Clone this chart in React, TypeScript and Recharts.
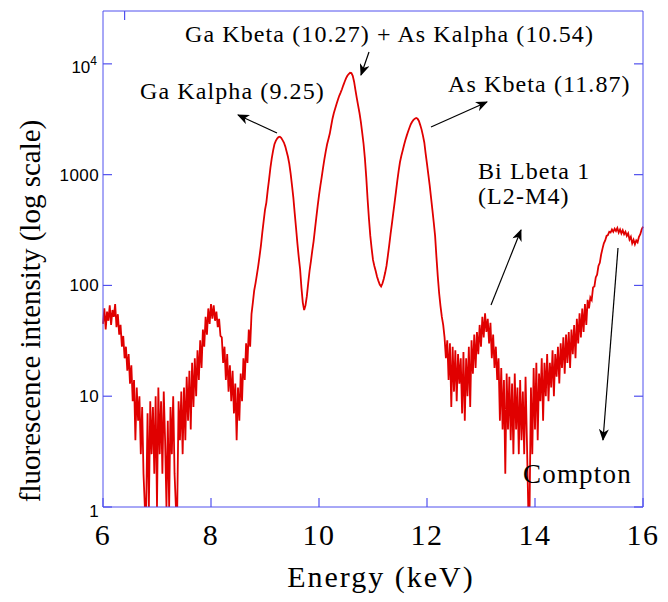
import { Line, LineChart, XAxis, YAxis } from "recharts"

const energyStart = 6
const energyStep = 0.025

const intensity = [
  45, 62, 40, 58, 48, 66, 44, 60, 52, 68, 42, 55, 36, 44, 28, 35, 22, 28, 17, 24,
  13, 19, 9, 14, 4, 12, 6, 10, 3, 8, 2, 1, 1, 7, 1, 9, 3, 8, 2, 10,
  1, 12, 3, 9, 2, 11, 4, 1, 6, 1, 8, 3, 10, 2, 1, 1, 9, 4, 11, 3,
  12, 4, 15, 6, 17, 5, 20, 8, 22, 10, 26, 14, 32, 18, 40, 28, 52, 36, 62, 45,
  68, 50, 66, 48, 58, 42, 50, 35, 34, 20, 28, 14, 24, 11, 19, 9, 17, 7, 13, 4,
  12, 6, 16, 9, 22, 14, 30, 20, 40, 28, 55, 70, 90, 105, 125, 150, 185, 230, 300, 380,
  480, 560, 720, 900, 1150, 1400, 1650, 1880, 2020, 2120, 2180, 2200, 2150, 2050, 1950, 1800, 1620, 1450, 1250, 1020,
  800, 620, 450, 330, 240, 180, 140, 95, 70, 60, 66, 80, 105, 135, 165, 205, 250, 320, 410, 520,
  650, 790, 950, 1150, 1380, 1620, 1880, 2100, 2350, 2750, 3200, 3600, 3950, 4350, 4750, 5150, 5500, 5900, 6400, 6900,
  7400, 7800, 8100, 8300, 8250, 7800, 6900, 5800, 4900, 4200, 3600, 3000, 2400, 1900, 1400, 950, 600, 400, 280, 215,
  170, 150, 135, 120, 110, 102, 98, 104, 115, 130, 150, 185, 230, 290, 360, 450, 560, 700, 880, 1080,
  1300, 1480, 1650, 1850, 2050, 2250, 2450, 2650, 2850, 3000, 3120, 3200, 3250, 3200, 3050, 2800, 2550, 2250, 1950, 1550,
  1250, 1000, 800, 620, 480, 370, 280, 180, 120, 85, 65, 52, 44, 34, 22, 32, 14, 30, 8, 28,
  11, 26, 9, 24, 13, 22, 7, 25, 6, 22, 10, 28, 8, 32, 16, 36, 18, 38, 24, 44,
  28, 52, 34, 56, 38, 50, 30, 46, 22, 36, 18, 28, 14, 22, 6, 18, 5, 14, 2, 16,
  5, 15, 4, 13, 3, 16, 5, 12, 3, 14, 4, 11, 3, 15, 4, 1, 1, 12, 3, 18,
  5, 20, 4, 16, 9, 22, 6, 20, 10, 24, 9, 20, 12, 26, 10, 24, 15, 28, 13, 30,
  18, 34, 16, 36, 20, 38, 18, 40, 24, 44, 22, 50, 30, 56, 34, 62, 38, 68, 44, 74,
  62, 78, 74, 96, 98, 118, 125, 150, 160, 190, 215, 240, 255, 280, 285, 305, 300, 320, 305, 325,
  310, 330, 300, 320, 295, 315, 290, 305, 280, 295, 260, 275, 240, 258, 235, 255, 245, 275, 290, 320,
  340,
]

const energyTicks = [6, 8, 10, 12, 14, 16]
const intensityTicks = [1, 10, 100, 1000, 10000]

const data = intensity.map((v, i) => ({
  energy: +(energyStart + i * energyStep).toFixed(3),
  intensity: v,
}))

const FRAME = "#5050ee"
const SERIF = "'Liberation Serif', 'Times New Roman', serif"
const SANS = "'Liberation Sans', Arial, sans-serif"
const TICK = 9

// all axes are mirrored (tickMargin 0), so x/y given to a tick sit at the inner end of the tick mark.
// the tick mark is drawn here, and the labels are pushed back outside the frame.
function BottomTick({ x, y, payload }: any) {
  return (
    <g>
      <line x1={x} x2={x} y1={y} y2={y + TICK} stroke={FRAME} strokeWidth={1.2} />
      <text x={x} y={y + 47} textAnchor="middle" fontFamily={SERIF} fontSize={30} letterSpacing={1.5} fill="#000">
        {payload.value}
      </text>
    </g>
  )
}

function TopTick({ x, y }: any) {
  return <line x1={x} x2={x} y1={y - TICK} y2={y} stroke={FRAME} strokeWidth={1.2} />
}

function RightTick({ x, y }: any) {
  return <line x1={x} x2={x + TICK} y1={y} y2={y} stroke={FRAME} strokeWidth={1.2} />
}

function LeftTick({ x, y, payload }: any) {
  const v = payload.value
  const lx = x - TICK - 4
  return (
    <g>
      <line x1={x - TICK} x2={x} y1={y} y2={y} stroke={FRAME} strokeWidth={1.2} />
      {v === 10000 ? (
        <text x={lx - 2} y={y} textAnchor="end" fontFamily={SANS} fontSize={17} fill="#000">
          <tspan dy={9}>10</tspan>
          <tspan dy={-8} fontSize={12}>4</tspan>
        </text>
      ) : (
        <text x={lx} y={y + (v === 1 ? 10 : 6)} textAnchor="end" fontFamily={SANS} fontSize={17} letterSpacing={0.4} fill="#000">
          {v}
        </text>
      )}
    </g>
  )
}

const annoText = { fontFamily: SERIF, fontSize: 24, letterSpacing: 1.1, fill: "#000" }

function Annotations() {
  return (
    <svg width={668} height={602} style={{ position: "absolute", left: 0, top: 0, pointerEvents: "none" }}>
      <defs>
        <marker id="arr" viewBox="0 0 12 10" refX="11" refY="5" markerWidth="13" markerHeight="10" markerUnits="userSpaceOnUse" orient="auto">
          <path d="M0,0 L12,5 L0,10 L3.5,5 z" fill="#000" />
        </marker>
      </defs>
      <text x={185} y={42} {...annoText}>Ga Kbeta (10.27) + As Kalpha (10.54)</text>
      <text x={140} y={99} {...annoText}>Ga Kalpha (9.25)</text>
      <text x={448} y={92} {...annoText}>As Kbeta (11.87)</text>
      <text x={478} y={179} {...annoText}>Bi Lbeta 1</text>
      <text x={478} y={204} {...annoText}>(L2-M4)</text>
      <text x={523} y={483} {...annoText} fontSize={27} letterSpacing={1.2}>Compton</text>

      <g stroke="#000" strokeWidth={1.2} markerEnd="url(#arr)">
        <line x1={277} y1={133} x2={238} y2={115} />
        <line x1={369} y1={52} x2={361} y2={75} />
        <line x1={431} y1={127} x2={487} y2={102} />
        <line x1={491} y1={305} x2={521} y2={230} />
        <line x1={618} y1={248} x2={603} y2={440} />
      </g>

      <text x={381} y={587} textAnchor="middle" fontFamily={SERIF} fontSize={30} letterSpacing={2} fill="#000">
        Energy (keV)
      </text>
      <text transform="translate(40,311) rotate(-90)" textAnchor="middle" fontFamily={SERIF} fontSize={29} fill="#000">
        fluorescence intensity (log scale)
      </text>
    </svg>
  )
}

export default function App() {
  return (
    <div style={{ position: "absolute", left: 0, top: 0, width: 668, height: 602, background: "#fff" }}>
      <LineChart width={668} height={602} data={data} margin={{ top: 11, right: 25, bottom: 95, left: 103 }}>
        <XAxis
          dataKey="energy"
          type="number"
          domain={[6, 16]}
          ticks={energyTicks}
          mirror
          stroke={FRAME}
          tickLine={false}
          tickSize={TICK}
          tickMargin={0}
          tick={<BottomTick />}
        />
        <XAxis
          xAxisId="top"
          orientation="top"
          type="number"
          domain={[6, 16]}
          ticks={energyTicks}
          mirror
          stroke={FRAME}
          tickLine={false}
          tickSize={TICK}
          tickMargin={0}
          tick={<TopTick />}
        />
        <YAxis
          scale="log"
          type="number"
          domain={[1, 30000]}
          ticks={intensityTicks}
          mirror
          stroke={FRAME}
          tickLine={false}
          tickSize={TICK}
          tickMargin={0}
          tick={<LeftTick />}
          allowDataOverflow
        />
        <YAxis
          yAxisId="right"
          orientation="right"
          scale="log"
          type="number"
          domain={[1, 30000]}
          ticks={intensityTicks}
          mirror
          stroke={FRAME}
          tickLine={false}
          tickSize={TICK}
          tickMargin={0}
          tick={<RightTick />}
          allowDataOverflow
        />
        <Line
          type="linear"
          dataKey="intensity"
          stroke="#e00000"
          strokeWidth={1.8}
          dot={false}
          isAnimationActive={false}
        />
      </LineChart>
      <Annotations />
    </div>
  )
}
